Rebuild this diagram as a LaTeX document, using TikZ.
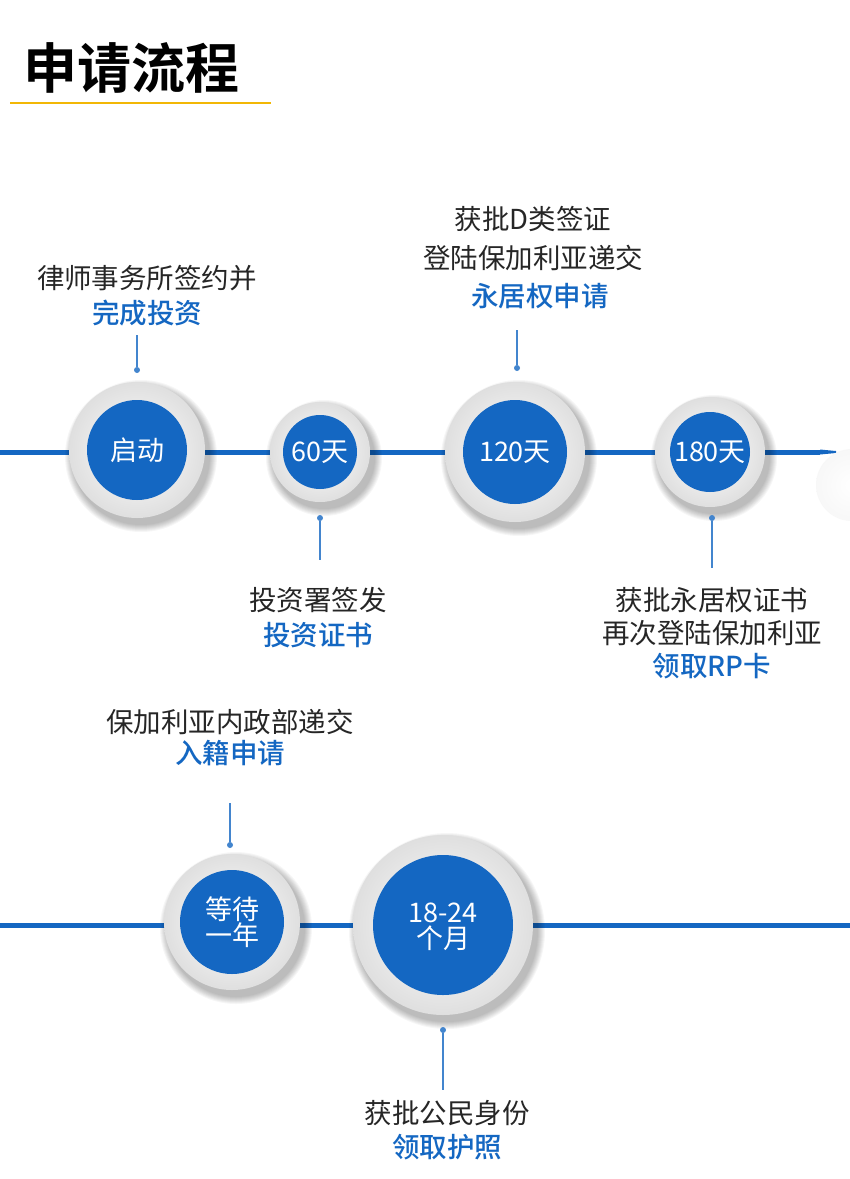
\documentclass[tikz,border=0pt]{standalone}
\usepackage{fontspec}
\setmainfont{Noto Sans CJK SC}
\newfontfamily\cjkb{Noto Sans CJK SC Bold}
\newfontfamily\cjkm{Noto Sans CJK SC Medium}
\definecolor{tblue}{HTML}{1467C2}
\definecolor{tyel}{HTML}{F2B705}
\tikzset{
  tline/.style={tblue,line width=5pt},
  conn/.style={tblue!80,line width=1.2pt},
  dotn/.style={circle,fill=tblue!80,inner sep=0pt,minimum size=6pt},
  lbl/.style={font=\fontsize{27.5}{30}\selectfont,text=black!85},
  blbl/.style={font=\fontsize{27.5}{30}\selectfont\cjkm,text=tblue},
  ctext/.style={font=\fontsize{27}{30}\selectfont,text=white,align=center}
}
\newcommand{\ball}[5]{% name, x, y, outer r, inner r
  \foreach \k in {1,...,8}{\fill[black,opacity=0.035] (#2+4,#3+6) circle ({#4+9-\k});}
  \shade[inner color=white,outer color=gray!25] (#2,#3) circle (#4);
  \fill[tblue] (#2,#3) circle (#5);
  \node[inner sep=0pt] (#1) at (#2,#3) {};
}
\begin{document}
\begin{tikzpicture}[x=1pt,y=-1pt]
\useasboundingbox (0,0) rectangle (850,1179);
\fill[white] (0,0) rectangle (850,1179);
% title
\node[anchor=west,font=\fontsize{54}{60}\selectfont\cjkb] (title) at (20,68) {申请流程};
\draw[tyel,line width=2pt] (10,103) -- (271,103);
% timeline 1
\draw[tline] (0,452) -- (820,452);
\fill[tblue] (820,449.5) -- (836,451) -- (836,453) -- (820,454.5) -- cycle;
\shade[inner color=white,outer color=gray!6] (852,485) circle (36);
\ball{s1}{137}{450}{68}{50}
\ball{s2}{320}{452}{50}{37}
\ball{s3}{515}{452}{70}{52}
\ball{s4}{710}{452}{55}{40}
\node[ctext] at (137,450) {启动};
\node[ctext] at (320,452) {60天};
\node[ctext] at (515,452) {120天};
\node[ctext] at (710,452) {180天};
% connectors
\node[dotn] (d1) at (137,370) {}; \coordinate (e1) at (137,335); \draw[conn] (e1) -- (d1);
\node[dotn] (d2) at (320,518) {}; \coordinate (e2) at (320,560); \draw[conn] (d2) -- (e2);
\node[dotn] (d3) at (517,368) {}; \coordinate (e3) at (517,330); \draw[conn] (e3) -- (d3);
\node[dotn] (d4) at (712,518) {}; \coordinate (e4) at (712,568); \draw[conn] (d4) -- (e4);
% texts
\node[lbl] (t1a) at (147,278) {律师事务所签约并};
\node[blbl] (t1b) at (147,313) {完成投资};
\node[lbl] (t3a) at (533,219) {获批D类签证};
\node[lbl] (t3b) at (533,258) {登陆保加利亚递交};
\node[blbl] (t3c) at (540,296) {永居权申请};
\node[lbl] (t2a) at (318,600) {投资署签发};
\node[blbl] (t2b) at (318,635) {投资证书};
\node[lbl] (t4a) at (712,600) {获批永居权证书};
\node[lbl] (t4b) at (712,633) {再次登陆保加利亚};
\node[blbl] (t4c) at (712,666) {领取RP卡};
% timeline 2
\draw[tline] (0,925) -- (850,925);
\ball{s5}{232}{922}{68}{52}
\ball{s6}{443}{925}{90}{70}
\node[ctext] at (232,922) {等待\\[-4pt]一年};
\node[ctext] at (443,927) {18-24\\[-4pt]个月};
\node[dotn] (d5) at (230,845) {}; \coordinate (e5) at (230,803); \draw[conn] (e5) -- (d5);
\node[dotn] (d6) at (443,1030) {}; \coordinate (e6) at (443,1090); \draw[conn] (d6) -- (e6);
\node[lbl] (t5a) at (230,722) {保加利亚内政部递交};
\node[blbl] (t5b) at (230,753) {入籍申请};
\node[lbl] (t6a) at (447,1113) {获批公民身份};
\node[blbl] (t6b) at (447,1147) {领取护照};
\end{tikzpicture}
\end{document}
